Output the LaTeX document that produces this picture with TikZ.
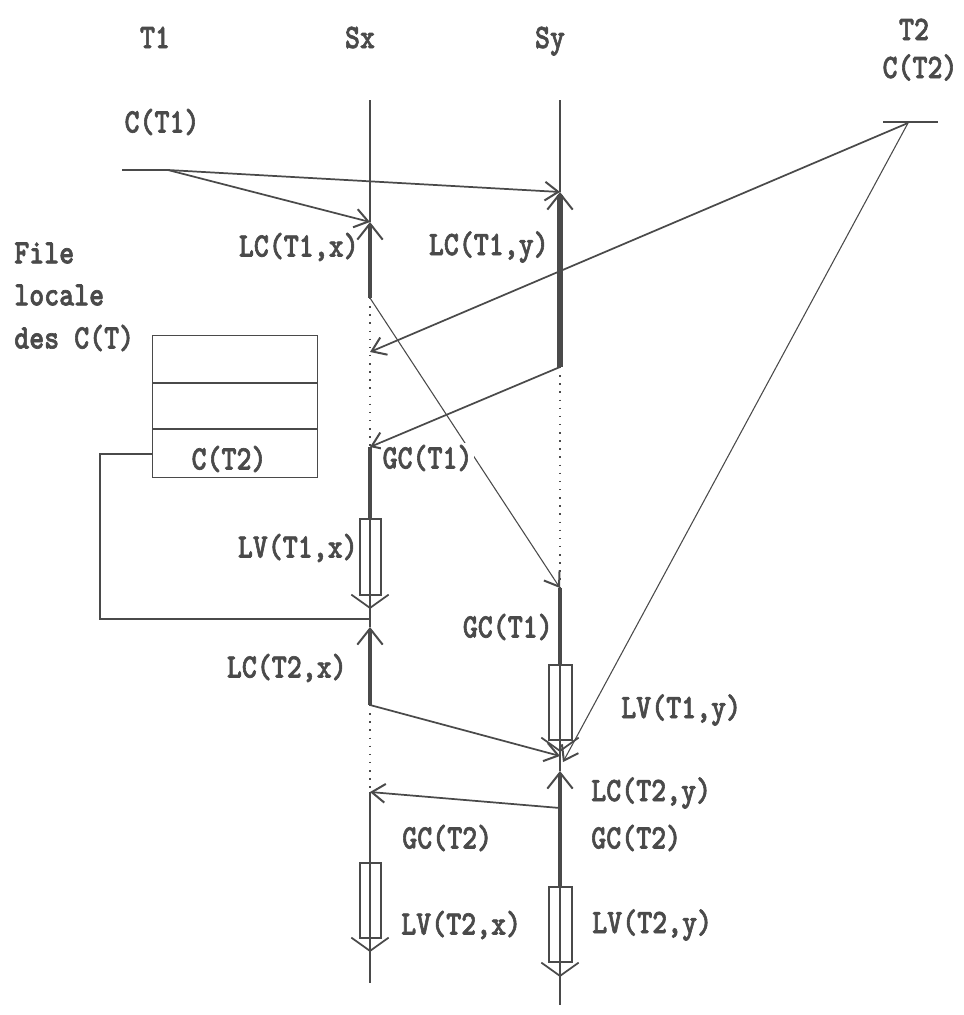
\documentclass[tikz,border=0pt]{standalone}
\usepackage{graphicx}
\usepackage{fontspec}
\usetikzlibrary{arrows.meta}
\definecolor{ink}{HTML}{4a4a4a}
\newfontfamily\lmmdark{lmmonolt10-bold.otf}[FakeBold=2]
\newcommand{\lblfont}{\lmmdark\fontsize{21.4}{24}\selectfont}
\newcommand{\tx}[1]{\scalebox{1}[1.2]{#1}}
\begin{document}
\begin{tikzpicture}[x=0.75pt,y=-0.75pt,
  life/.style={draw=ink, line width=0.8pt},
  lockthick/.style={draw=ink, line width=3.8pt},
  lockmid/.style={draw=ink, line width=2.4pt},
  locklow/.style={draw=ink, line width=1.6pt},
  dots/.style={draw=ink, line width=1.1pt, dash pattern=on 1.1pt off 5pt},
  msg/.style={draw=ink, line width=1.3pt, -{Straight Barb[length=10pt,width=14pt,line width=1.5pt]}},
  msgthin/.style={draw=ink, line width=0.8pt, -{Straight Barb[length=10pt,width=14pt,line width=1.5pt]}},
  upbarb/.style={{Straight Barb[length=12pt,width=19pt,line width=1.5pt]}-},
  downbarb/.style={draw=ink, line width=0.8pt, -{Straight Barb[length=10pt,width=28pt,line width=1.3pt]}},
  lvbox/.style={draw=ink, line width=0.9pt},
  plain/.style={draw=ink, line width=1.1pt},
  lbl/.style={text=ink, font=\lblfont, inner sep=0pt}
]
\useasboundingbox (0,0) rectangle (964,1015);

% ---------- coordinates on the lifelines
\coordinate (sx0) at (370,100);
\coordinate (sxA) at (370,222);
\coordinate (sxB) at (370,298);
\coordinate (sxC) at (370,352);
\coordinate (sxD) at (370,447);
\coordinate (sxE) at (370,619);
\coordinate (sxF) at (370,705);
\coordinate (sxG) at (370,792);
\coordinate (sy0) at (560,100);
\coordinate (syA) at (560,192);
\coordinate (syB) at (560,367);
\coordinate (syC) at (560,588);
\coordinate (syD) at (560,756);
\coordinate (syE) at (563,762);
\coordinate (syF) at (560,808);
\coordinate (ct1) at (168,170);
\coordinate (ct1s) at (122,170);
\coordinate (t2o) at (908,123);
\coordinate (t2l) at (883,122);
\coordinate (t2r) at (938,122);

% ---------- headings
\node[lbl, anchor=base] (hT1) at (155,48) {\tx{T1}};
\node[lbl, anchor=base] (hSx) at (360,48) {\tx{Sx}};
\node[lbl, anchor=base] (hSy) at (550,48) {\tx{Sy}};
\node[lbl, anchor=base] (hT2) at (914,40) {\tx{T2}};
\node[lbl, anchor=base] (hCT2) at (920,78) {\tx{C(T2)}};

% ---------- lifeline Sx
\draw[life] (sx0) -- (sxA);
\draw[lockmid, upbarb] (sxA) -- (sxB);
\draw[dots] (sxB) -- (sxD);
\draw[lockmid] (sxD) -- (370,519);
\draw[lvbox] (360,519) rectangle (381,595);
\draw[life] (370,519) -- (370,627);
\draw[downbarb] (370,595) -- (370,609);
\draw[lockmid, upbarb] (370,627) -- (sxF);
\draw[dots] (sxF) -- (sxG);
\draw[locklow] (sxG) -- (370,863);
\draw[lvbox] (360,863) rectangle (381,938);
\draw[life] (370,863) -- (370,983);
\draw[downbarb] (370,938) -- (370,952);

% ---------- lifeline Sy
\draw[life] (sy0) -- (syA);
\draw[lockthick, upbarb] (syA) -- (syB);
\draw[dots] (syB) -- (syC);
\draw[lockmid] (syC) -- (560,665);
\draw[lvbox] (549,665) rectangle (572,740);
\draw[life] (560,665) -- (560,771);
\draw[downbarb] (560,740) -- (560,752);
\draw[lockmid, upbarb] (560,771) -- (560,887);
\draw[lvbox] (549,887) rectangle (572,962);
\draw[life] (560,887) -- (560,1005);
\draw[downbarb] (560,962) -- (560,977);

% ---------- T1 and T2 origins
\node[lbl] (lCT1) at (162,122) {\tx{C(T1)}};
\draw[plain] (ct1s) -- (ct1);
\draw[plain] (t2l) -- (t2r);

% ---------- messages
\draw[msg] (ct1) -- (syA);
\draw[msg] (ct1) -- (sxA);
\draw[msg] (t2o) -- (sxC);
\draw[msgthin] (t2o) -- (syE);
\draw[msg] (syB) -- (sxD);
\draw[msgthin] (sxB) -- (syC);
\draw[msg] (sxF) -- (syD);
\draw[msg] (syF) -- (sxG);

% ---------- file locale
\node[lbl, anchor=west] (lf1) at (14,253) {\tx{File}};
\node[lbl, anchor=west] (lf2) at (14,295) {\tx{locale}};
\node[lbl, anchor=west] (lf3) at (14,338) {\tx{des C(T)}};
\node[draw=ink, line width=1.1pt, anchor=north west, minimum width=123.75pt, minimum height=106.5pt, inner sep=0pt] (queue) at (152,335) {};
\draw[plain] (152,383) -- (317,383);
\draw[plain] (152,429) -- (317,429);
\node[lbl] (lCT2q) at (229,459) {\tx{C(T2)}};
\coordinate (qout) at (152,454);
\draw[plain] (qout) -- (100,454) -- (100,619) -- (sxE);

% ---------- labels
\node[lbl, anchor=east] (lLC1x) at (359,247) {\tx{LC(T1,x)}};
\node[lbl, anchor=east] (lLC1y) at (549,247) {\tx{LC(T1,y)}};
\node[lbl, anchor=west, fill=white, inner sep=1pt] (lGC1x) at (381,458) {\tx{GC(T1)}};
\node[lbl, anchor=east] (lLV1x) at (358,548) {\tx{LV(T1,x)}};
\node[lbl, anchor=east] (lGC1y) at (553,627) {\tx{GC(T1)}};
\node[lbl, anchor=east] (lLC2x) at (347,668) {\tx{LC(T2,x)}};
\node[lbl, anchor=west] (lLV1y) at (621,710) {\tx{LV(T1,y)}};
\node[lbl, anchor=west] (lLC2y) at (591,793) {\tx{LC(T2,y)}};
\node[lbl, anchor=west] (lGC2x) at (402,838) {\tx{GC(T2)}};
\node[lbl, anchor=west] (lGC2y) at (591,838) {\tx{GC(T2)}};
\node[lbl, anchor=west] (lLV2x) at (401,925) {\tx{LV(T2,x)}};
\node[lbl, anchor=west] (lLV2y) at (592,925) {\tx{LV(T2,y)}};
\end{tikzpicture}
\end{document}
